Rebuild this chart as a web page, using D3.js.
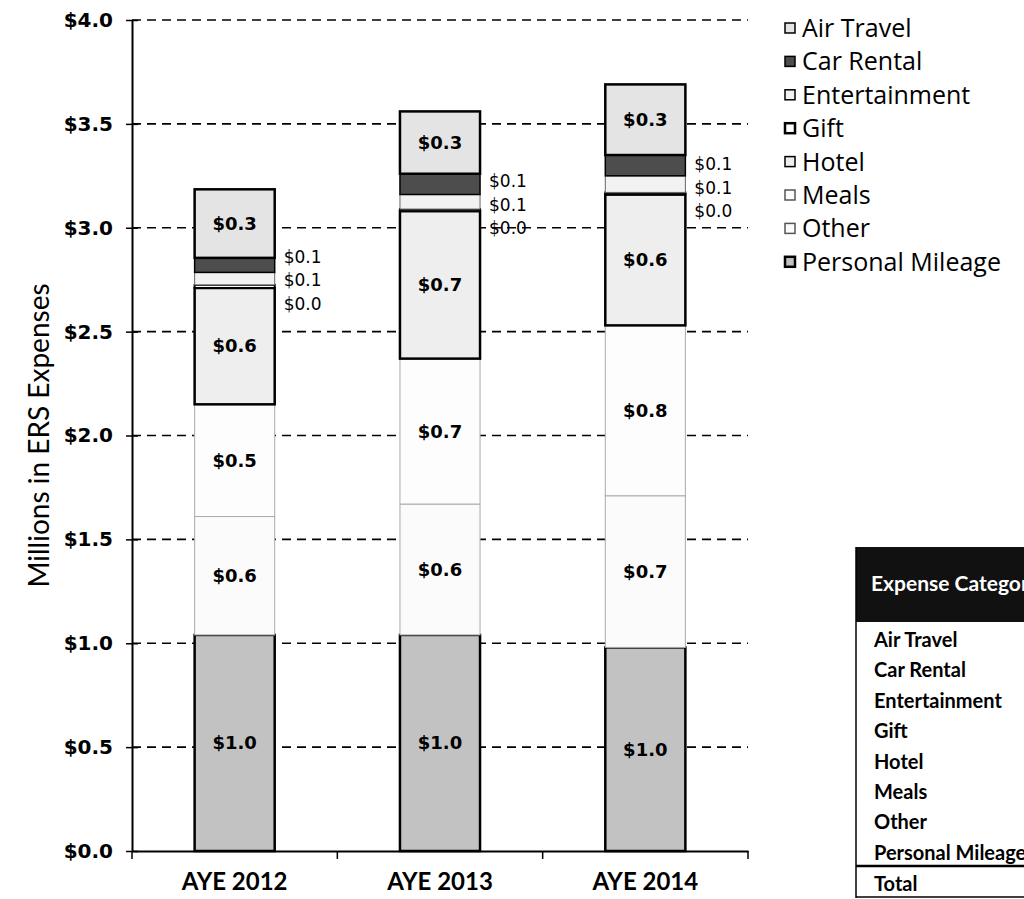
<!DOCTYPE html>
<html>
<head>
<meta charset="utf-8">
<script src="https://cdn.jsdelivr.net/npm/d3@7"></script>
<style>
  html, body { margin: 0; padding: 0; background: #fff; }
  svg { display: block; }
</style>
</head>
<body>
<svg id="chart" width="1024" height="899"></svg>
<script>
// Fiscal years shown on the x axis
const years = ["AYE 2012", "AYE 2013", "AYE 2014"];

// Expense categories, stacked bottom to top
const categories = ["Personal Mileage", "Other", "Meals", "Hotel", "Gift", "Entertainment", "Car Rental", "Air Travel"];

// Expenses in millions of dollars, one array per category (2012, 2013, 2014)
const personalMileage = [1.04, 1.04, 0.98];
const other           = [0.57, 0.63, 0.73];
const meals           = [0.54, 0.70, 0.82];
const hotel           = [0.56, 0.71, 0.63];
const gift            = [0.015, 0.01, 0.01];
const entertainment   = [0.06, 0.07, 0.08];
const carRental       = [0.07, 0.10, 0.10];
const airTravel       = [0.33, 0.30, 0.34];

// Legend order (top to bottom)
const legendOrder = ["Air Travel", "Car Rental", "Entertainment", "Gift", "Hotel", "Meals", "Other", "Personal Mileage"];

// Y axis tick values
const yTicks = [0, 0.5, 1.0, 1.5, 2.0, 2.5, 3.0, 3.5, 4.0];

// Rows of the category table
const tableRows = ["Air Travel", "Car Rental", "Entertainment", "Gift", "Hotel", "Meals", "Other", "Personal Mileage"];
const tableTotal = "Total";

const seriesValues = {
  "Personal Mileage": personalMileage,
  "Other": other,
  "Meals": meals,
  "Hotel": hotel,
  "Gift": gift,
  "Entertainment": entertainment,
  "Car Rental": carRental,
  "Air Travel": airTravel
};

// Fill / stroke per category
const styles = {
  "Personal Mileage": { fill: "#c2c2c2", stroke: "#000", sw: 2.5 },
  "Other":            { fill: "#fbfbfb", stroke: "#aaa", sw: 1 },
  "Meals":            { fill: "#fdfdfd", stroke: "#aaa", sw: 1 },
  "Hotel":            { fill: "#eeeeee", stroke: "#000", sw: 2.5 },
  "Gift":             { fill: "#ffffff", stroke: "#000", sw: 2 },
  "Entertainment":    { fill: "#f2f2f2", stroke: "#666", sw: 1 },
  "Car Rental":       { fill: "#4d4d4d", stroke: "#000", sw: 1.5 },
  "Air Travel":       { fill: "#e4e4e4", stroke: "#000", sw: 2.5 }
};

// Categories whose labels sit to the right of the bar
const sideLabelled = ["Car Rental", "Entertainment", "Gift"];

const table = years.map((y, i) => {
  const row = { year: y };
  categories.forEach(c => row[c] = seriesValues[c][i]);
  return row;
});

const stacked = d3.stack().keys(categories)(table);

const svg = d3.select("#chart");
const fmt = v => "$" + d3.format(".1f")(v);

const x = d3.scaleBand().domain(years).range([132, 748]).paddingInner(0.61).paddingOuter(0.305);
const y = d3.scaleLinear().domain([0, 4]).range([851, 20]);

// Dashed gridlines
svg.append("g")
  .selectAll("line")
  .data(yTicks.filter(t => t > 0))
  .join("line")
  .attr("x1", 132).attr("x2", 748)
  .attr("y1", d => y(d)).attr("y2", d => y(d))
  .attr("stroke", "#000").attr("stroke-width", 1.6)
  .attr("stroke-dasharray", "9,6");

// Stacked bars
const layers = svg.append("g").selectAll("g")
  .data(stacked)
  .join("g");

layers.selectAll("rect")
  .data(d => d.map(p => ({ p, key: d.key })))
  .join("rect")
  .attr("x", d => x(d.p.data.year))
  .attr("width", x.bandwidth())
  .attr("y", d => y(d.p[1]))
  .attr("height", d => y(d.p[0]) - y(d.p[1]))
  .attr("fill", d => styles[d.key].fill)
  .attr("stroke", d => styles[d.key].stroke)
  .attr("stroke-width", d => styles[d.key].sw);

// Inside value labels
const inside = stacked.filter(s => !sideLabelled.includes(s.key));
svg.append("g").selectAll("g")
  .data(inside)
  .join("g")
  .selectAll("text")
  .data(d => d)
  .join("text")
  .attr("x", d => x(d.data.year) + x.bandwidth() / 2)
  .attr("y", d => y((d[0] + d[1]) / 2))
  .attr("dy", "0.35em")
  .attr("text-anchor", "middle")
  .attr("font-family", "DejaVu Sans")
  .attr("font-weight", "bold")
  .attr("font-size", 18)
  .attr("fill", "#000")
  .text(d => fmt(d[1] - d[0]));

// Side labels for the thin segments, stacked upward from just below the Gift line
const giftLayer = stacked.find(s => s.key === "Gift");
const sideOrder = ["Car Rental", "Entertainment", "Gift"];
svg.append("g").selectAll("g")
  .data(years.map((yr, i) => ({ yr, i })))
  .join("g")
  .each(function (d) {
    const baseY = y(giftLayer[d.i][1]) + 19;
    sideOrder.forEach((c, k) => {
      d3.select(this).append("text")
        .attr("x", x(d.yr) + x.bandwidth() + 9)
        .attr("y", baseY - (sideOrder.length - 1 - k) * 23.5)
        .attr("dy", "0.35em")
        .attr("font-family", "DejaVu Sans")
        .attr("font-size", 17)
        .attr("fill", "#000")
        .text(fmt(seriesValues[c][d.i]));
    });
  });

// Y axis
const yAxis = svg.append("g").attr("transform", "translate(132,0)")
  .call(d3.axisLeft(y).tickValues(yTicks).tickFormat(d => "$" + d3.format(".1f")(d)).tickSizeInner(6).tickSizeOuter(0));
yAxis.select(".domain").attr("stroke", "#000").attr("stroke-width", 2);
yAxis.selectAll(".tick line").attr("stroke", "#000").attr("stroke-width", 1.5).attr("x2", 6).attr("x1", -6);
yAxis.selectAll(".tick text")
  .attr("x", -19)
  .attr("font-family", "DejaVu Sans")
  .attr("font-weight", "bold")
  .attr("font-size", 20)
  .attr("fill", "#000");

// X axis
const xAxis = svg.append("g").attr("transform", "translate(0,851)")
  .call(d3.axisBottom(x).tickSize(0).tickPadding(22));
xAxis.select(".domain").attr("stroke", "#000").attr("stroke-width", 2);
xAxis.selectAll(".tick text")
  .attr("font-family", "Lato")
  .attr("font-weight", "bold")
  .attr("font-size", 24)
  .attr("fill", "#000");
// Category separators on the x axis
const step = x.step();
svg.append("g").selectAll("line")
  .data(d3.range(years.length + 1))
  .join("line")
  .attr("x1", i => 132 + i * step).attr("x2", i => 132 + i * step)
  .attr("y1", 851).attr("y2", 859)
  .attr("stroke", "#000").attr("stroke-width", 1.5);

// Y axis title
svg.append("text")
  .attr("transform", `translate(49,${(y(0) + y(4)) / 2}) rotate(-90)`)
  .attr("text-anchor", "middle")
  .attr("font-family", "Lato")
  .attr("font-size", 28)
  .attr("fill", "#000")
  .text("Millions in ERS Expenses");

// Legend
const legend = svg.append("g").attr("transform", "translate(785,28)");
const li = legend.selectAll("g").data(legendOrder).join("g")
  .attr("transform", (d, i) => `translate(0,${i * 33.4})`);
li.append("rect")
  .attr("x", 0).attr("y", -5).attr("width", 10).attr("height", 10)
  .attr("fill", d => styles[d].fill)
  .attr("stroke", d => styles[d].stroke === "#aaa" ? "#555" : "#000")
  .attr("stroke-width", d => (d === "Gift" || d === "Personal Mileage") ? 2.5 : 1.5);
li.append("text")
  .attr("x", 17).attr("y", 0).attr("dy", "0.36em")
  .attr("font-family", "Open Sans")
  .attr("font-size", 25)
  .attr("fill", "#000")
  .text(d => d);

// Category table (extends past the right edge of the page)
const tbl = svg.append("g");
tbl.append("rect")
  .attr("x", 856).attr("y", 547).attr("width", 200).attr("height", 75)
  .attr("fill", "#111");
tbl.append("text")
  .attr("x", 871).attr("y", 584).attr("dy", "0.35em")
  .attr("font-family", "Lato").attr("font-weight", "bold").attr("font-size", 21)
  .attr("fill", "#fff")
  .text("Expense Category");
tbl.selectAll("text.row").data(tableRows).join("text")
  .attr("class", "row")
  .attr("x", 874).attr("y", (d, i) => 640 + i * 30.4).attr("dy", "0.35em")
  .attr("font-family", "Lato").attr("font-weight", "bold").attr("font-size", 20)
  .attr("fill", "#000")
  .text(d => d);
tbl.append("line").attr("x1", 856).attr("x2", 1024).attr("y1", 866).attr("y2", 866)
  .attr("stroke", "#000").attr("stroke-width", 2.5);
tbl.append("text")
  .attr("x", 874).attr("y", 884).attr("dy", "0.35em")
  .attr("font-family", "Lato").attr("font-weight", "bold").attr("font-size", 20)
  .attr("fill", "#000")
  .text(tableTotal);
tbl.append("line").attr("x1", 856).attr("x2", 1024).attr("y1", 897).attr("y2", 897)
  .attr("stroke", "#000").attr("stroke-width", 1.5);
tbl.append("line").attr("x1", 856).attr("x2", 856).attr("y1", 547).attr("y2", 898)
  .attr("stroke", "#000").attr("stroke-width", 1.5);
</script>
</body>
</html>
